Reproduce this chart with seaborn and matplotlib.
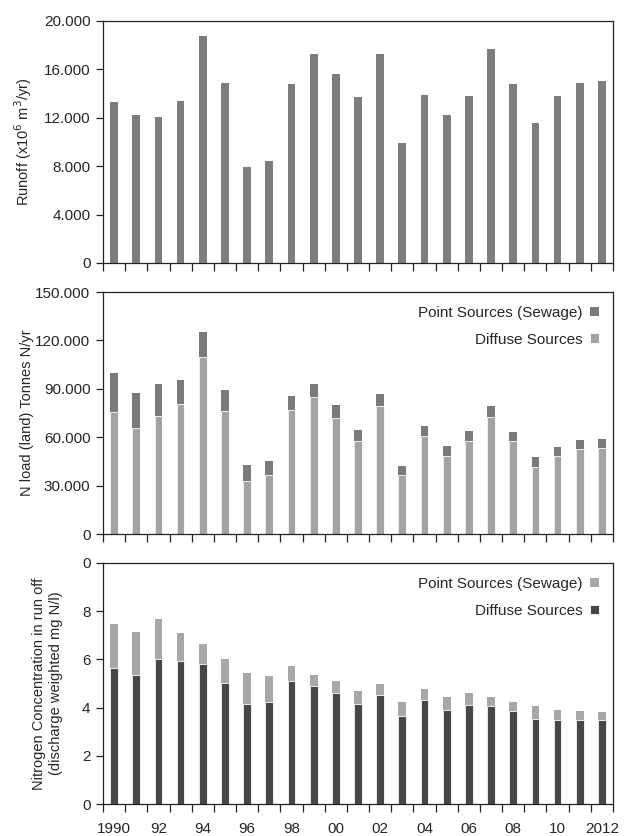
import matplotlib
matplotlib.use("Agg")
import matplotlib.pyplot as plt
from matplotlib.ticker import FixedLocator, FuncFormatter
import numpy as np
import pandas as pd
import seaborn as sns

years = list(range(1990, 2013))
year_labels = ["1990", "", "92", "", "94", "", "96", "", "98", "", "00", "", "02", "",
               "04", "", "06", "", "08", "", "10", "", "2012"]

runoff = [13300, 12200, 12100, 13400, 18800, 14900, 7900, 8400, 14800, 17300, 15600, 13700,
          17300, 9900, 13900, 12200, 13800, 17700, 14800, 11600, 13800, 14900, 15000]

load_total = [99600, 87200, 93000, 95700, 125000, 89500, 42900, 45000, 85600, 93200, 80000, 64500,
              86800, 42300, 67000, 54400, 63900, 79600, 63300, 47500, 54000, 58000, 58600]
load_diffuse = [75700, 65600, 73400, 80600, 109900, 76300, 32800, 36700, 76900, 84700, 72200, 57900,
                79400, 36700, 60800, 48500, 57900, 72800, 57600, 41500, 48300, 52600, 53400]

conc_total = [7.47, 7.14, 7.68, 7.10, 6.63, 6.00, 5.44, 5.30, 5.74, 5.36, 5.11, 4.69,
              4.97, 4.25, 4.76, 4.44, 4.60, 4.46, 4.24, 4.08, 3.88, 3.86, 3.83]
conc_diffuse = [5.65, 5.36, 6.01, 5.92, 5.80, 5.04, 4.15, 4.25, 5.11, 4.88, 4.60, 4.15,
                4.54, 3.64, 4.30, 3.92, 4.11, 4.06, 3.84, 3.54, 3.48, 3.50, 3.47]

df = pd.DataFrame({
    "year": [str(y) for y in years],
    "runoff": runoff,
    "load_total": load_total,
    "load_diffuse": load_diffuse,
    "conc_total": conc_total,
    "conc_diffuse": conc_diffuse,
})
order = df["year"].tolist()

sns.set_theme(style="white")
plt.rcParams["font.family"] = ["Liberation Sans", "DejaVu Sans"]
plt.rcParams["font.size"] = 10.5

fig = plt.figure(figsize=(6.31, 8.36), dpi=100)
W, H = 631, 836
left, right = 103, 613
boxes = [(21, 263), (292, 534), (563, 804)]
axes = [fig.add_axes([left / W, 1 - b / H, (right - left) / W, (b - t) / H]) for t, b in boxes]

BW = 0.35


def dotted(v, pos):
    return f"{int(round(v)):,}".replace(",", ".")


def style_axis(ax):
    for s in ax.spines.values():
        s.set_color("#222222")
        s.set_linewidth(0.9)
    ax.set_xlim(-0.5, len(years) - 0.5)
    ax.xaxis.set_major_locator(FixedLocator(np.arange(len(years))))
    ax.xaxis.set_minor_locator(FixedLocator(np.arange(-0.5, len(years), 1.0)))
    ax.tick_params(axis="x", which="major", length=0, labelsize=11, pad=13)
    ax.tick_params(axis="x", which="minor", length=6, width=0.9, color="#222222", direction="out", bottom=True)
    ax.tick_params(axis="y", which="major", length=5, width=0.9, color="#222222", direction="out",
                   left=True, labelsize=11, pad=4)
    ax.set_xlabel("")


def add_legend(ax):
    ax.legend(loc="upper right", frameon=False, markerfirst=False, handlelength=0.6, handleheight=0.6,
              handletextpad=0.5, fontsize=11, borderaxespad=0.5, labelspacing=0.85)


# Panel 1: runoff
ax = axes[0]
sns.barplot(data=df, x="year", y="runoff", order=order, color="#7d7d7d", width=BW,
            saturation=1, edgecolor="none", ax=ax)
ax.set_ylim(0, 20000)
ax.set_yticks([0, 4000, 8000, 12000, 16000, 20000])
ax.yaxis.set_major_formatter(FuncFormatter(dotted))
ax.set_ylabel("Runoff (x10$^6$ m$^3$/yr)", fontsize=10.5)
style_axis(ax)
ax.set_xticklabels([])

# Panel 2: N load
ax = axes[1]
sns.barplot(data=df, x="year", y="load_total", order=order, color="#7a7a7a", width=BW,
            saturation=1, edgecolor="none", ax=ax, label="Point Sources (Sewage)")
sns.barplot(data=df, x="year", y="load_diffuse", order=order, color="#a3a3a3", width=BW,
            saturation=1, edgecolor="white", linewidth=0.6, ax=ax, label="Diffuse Sources")
ax.set_ylim(0, 150000)
ax.set_yticks([0, 30000, 60000, 90000, 120000, 150000])
ax.yaxis.set_major_formatter(FuncFormatter(dotted))
ax.set_ylabel("N load (land) Tonnes N/yr", fontsize=10.5)
style_axis(ax)
ax.set_xticklabels([])
add_legend(ax)

# Panel 3: concentration
ax = axes[2]
sns.barplot(data=df, x="year", y="conc_total", order=order, color="#a8a8a8", width=BW,
            saturation=1, edgecolor="none", ax=ax, label="Point Sources (Sewage)")
sns.barplot(data=df, x="year", y="conc_diffuse", order=order, color="#474747", width=BW,
            saturation=1, edgecolor="white", linewidth=0.6, ax=ax, label="Diffuse Sources")
ax.set_ylim(0, 10)
ax.set_yticks([0, 2, 4, 6, 8, 10])
ax.set_yticklabels(["0", "2", "4", "6", "8", "0"])
ax.set_ylabel("Nitrogen Concentration in run off\n(discharge weighted mg N/l)", fontsize=10.5,
              linespacing=1.25)
style_axis(ax)
ax.set_xticklabels(year_labels)
add_legend(ax)

axes[0].yaxis.set_label_coords(-0.135, 0.5)
axes[1].yaxis.set_label_coords(-0.135, 0.5)
axes[2].yaxis.set_label_coords(-0.078, 0.5)

fig.savefig("out.png", dpi=100)
